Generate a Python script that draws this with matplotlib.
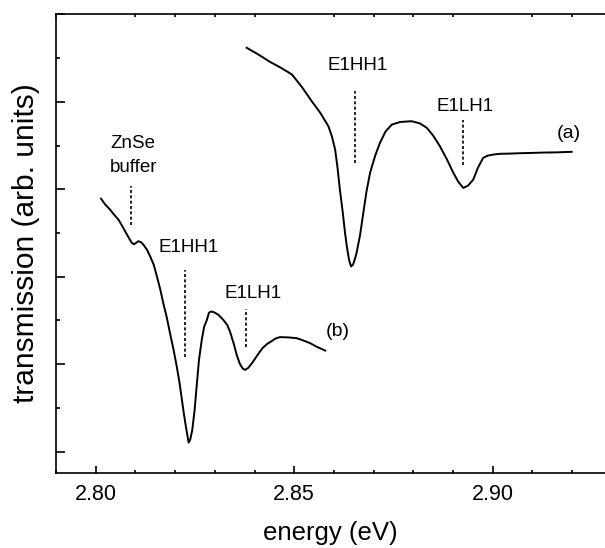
import matplotlib
matplotlib.use("Agg")
import matplotlib.pyplot as plt
from matplotlib.ticker import MultipleLocator

plt.rcParams['font.family'] = ['Liberation Sans', 'DejaVu Sans']

# ───────── data ─────────
# curve (a)
energy_a = [2.8380, 2.8409, 2.8439, 2.8467, 2.8494, 2.8520, 2.8544, 2.8565,
            2.8586, 2.8595, 2.8603, 2.8609, 2.8615, 2.8622, 2.8628, 2.8633,
            2.8638, 2.8643, 2.8648, 2.8653, 2.8657, 2.8666, 2.8674, 2.8682,
            2.8691, 2.8704, 2.8716, 2.8730, 2.8746, 2.8767, 2.8796, 2.8817,
            2.8834, 2.8850, 2.8867, 2.8885, 2.8901, 2.8913, 2.8926, 2.8938,
            2.8951, 2.8963, 2.8976, 2.8988, 2.9002, 2.9018, 2.9044, 2.9069,
            2.9102, 2.9132, 2.9162, 2.9199]
trans_a = [4.618, 4.542, 4.456, 4.387, 4.313, 4.164, 4.007, 3.878,
           3.721, 3.603, 3.454, 3.248, 2.996, 2.744, 2.500, 2.332,
           2.195, 2.118, 2.137, 2.206, 2.271, 2.481, 2.729, 2.973,
           3.187, 3.385, 3.531, 3.660, 3.740, 3.769, 3.778, 3.752,
           3.702, 3.614, 3.492, 3.339, 3.187, 3.088, 3.015, 3.042,
           3.110, 3.248, 3.359, 3.385, 3.397, 3.405, 3.408, 3.412,
           3.416, 3.420, 3.422, 3.428]

# curve (b)
energy_b = [2.8013, 2.8023, 2.8036, 2.8046, 2.8057, 2.8066, 2.8074, 2.8083,
            2.8091, 2.8096, 2.8102, 2.8107, 2.8114, 2.8120, 2.8129, 2.8137,
            2.8146, 2.8154, 2.8162, 2.8170, 2.8179, 2.8187, 2.8196, 2.8204,
            2.8211, 2.8217, 2.8222, 2.8227, 2.8231, 2.8234, 2.8238, 2.8243,
            2.8249, 2.8254, 2.8260, 2.8267, 2.8273, 2.8280, 2.8285, 2.8290,
            2.8298, 2.8309, 2.8321, 2.8331, 2.8338, 2.8347, 2.8355, 2.8363,
            2.8370, 2.8376, 2.8384, 2.8395, 2.8406, 2.8420, 2.8432, 2.8444,
            2.8454, 2.8464, 2.8484, 2.8506, 2.8522, 2.8540, 2.8557, 2.8578]
trans_b = [2.893, 2.830, 2.767, 2.710, 2.653, 2.584, 2.519, 2.446,
           2.386, 2.372, 2.389, 2.406, 2.395, 2.366, 2.309, 2.232,
           2.137, 2.003, 1.863, 1.699, 1.531, 1.355, 1.164, 0.973,
           0.786, 0.592, 0.432, 0.286, 0.180, 0.105, 0.140, 0.248,
           0.477, 0.744, 1.050, 1.279, 1.428, 1.508, 1.588, 1.603,
           1.594, 1.565, 1.508, 1.450, 1.374, 1.244, 1.107, 1.004,
           0.952, 0.935, 0.958, 1.021, 1.096, 1.184, 1.233, 1.267,
           1.296, 1.310, 1.307, 1.298, 1.273, 1.241, 1.199, 1.156]

# dashed markers: (energy, y_bottom, y_top)
markers = [(2.8653, 3.302, 4.121),   # E1HH1 (a)
           (2.8924, 3.282, 3.797),   # E1LH1 (a)
           (2.8088, 2.595, 3.034),   # ZnSe buffer
           (2.8225, 1.088, 2.080),   # E1HH1 (b)
           (2.8378, 1.195, 1.630)]   # E1LH1 (b)

# ───────── figure ─────────
fig = plt.figure(figsize=(6.05, 5.48), dpi=100)
ax = fig.add_axes([0.0921, 0.1374, 0.9079, 0.8365])

ax.plot(energy_a, trans_a, color='black', lw=1.4, solid_joinstyle='round')
ax.plot(energy_b, trans_b, color='black', lw=1.4, solid_joinstyle='round')

for e, y0, y1 in markers:
    ax.plot([e, e], [y0, y1], color='black', lw=1.2, linestyle=(0, (1.8, 1.4)))

# labels
ax.text(2.8660, 4.358, 'E1HH1', fontsize=13.5, ha='center', va='baseline')
ax.text(2.8930, 3.900, 'E1LH1', fontsize=13.5, ha='center', va='baseline')
ax.text(2.9192, 3.637, '(a)', fontsize=14, ha='center', va='center')
ax.text(2.8036, 3.473, 'ZnSe', fontsize=13.5, ha='left', va='baseline')
ax.text(2.8036, 3.199, 'buffer', fontsize=13.5, ha='left', va='baseline')
ax.text(2.8235, 2.278, 'E1HH1', fontsize=13.5, ha='center', va='baseline')
ax.text(2.8396, 1.756, 'E1LH1', fontsize=13.5, ha='center', va='baseline')
ax.text(2.8609, 1.374, '(b)', fontsize=14, ha='center', va='center')

ax.set_xlim(2.7899, 2.9283)
ax.set_ylim(-0.24, 5.0)

ax.xaxis.set_major_locator(MultipleLocator(0.05))
ax.xaxis.set_minor_locator(MultipleLocator(0.01))
ax.xaxis.set_major_formatter(plt.FormatStrFormatter('%.2f'))
ax.yaxis.set_major_locator(MultipleLocator(1))
ax.yaxis.set_minor_locator(MultipleLocator(0.5))
ax.set_yticklabels([])

ax.tick_params(axis='x', which='major', direction='in', length=5, width=1.2,
               labelsize=15.5, pad=8, top=False)
ax.tick_params(axis='x', which='minor', direction='in', length=2.5, width=1.2,
               top=True)
ax.tick_params(axis='y', which='major', direction='in', length=6.3, width=1.2)
ax.tick_params(axis='y', which='minor', direction='in', length=3, width=1.2)

ax.spines['right'].set_visible(False)
for s in ('left', 'bottom', 'top'):
    ax.spines[s].set_linewidth(1.2)

ax.set_xlabel('energy (eV)', fontsize=18.5, labelpad=12)
ax.set_ylabel('transmission (arb. units)', fontsize=21.5, labelpad=8)

fig.savefig('out.png', dpi=100)
